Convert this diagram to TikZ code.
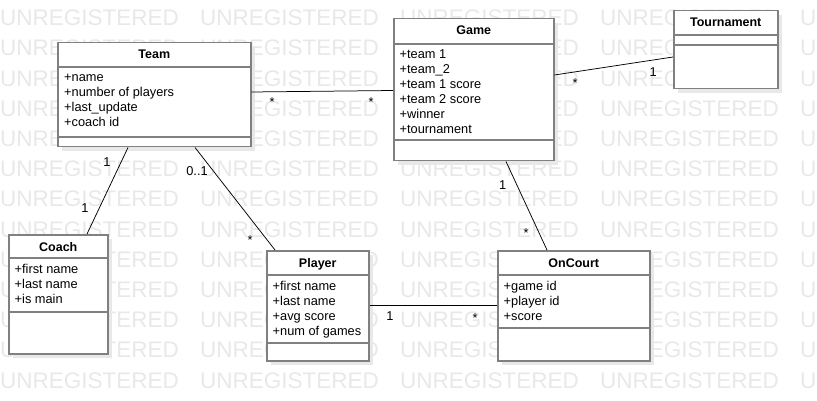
\documentclass[tikz,border=0pt]{standalone}
\usepackage{fontspec}
\setmainfont{Liberation Sans}
\usetikzlibrary{calc,shadows}
\begin{document}
\begin{tikzpicture}[x=1pt, y=-1pt]

	% Kiểu dáng cho lớp, chữ và đường nối
	\tikzset{
		classBox/.style={rectangle, draw=black!50, line width=1.5pt, fill=white, inner sep=0pt, anchor=north west,
			drop shadow={shadow xshift=4pt, shadow yshift=-4pt, fill=black!9, opacity=1}},
		sepLine/.style={draw=black!50, line width=1.5pt},
		titleText/.style={font=\fontsize{12.5}{15}\selectfont\bfseries, inner sep=0pt, anchor=base},
		attrText/.style={font=\fontsize{12.8}{15}\selectfont, inner sep=0pt, anchor=base west},
		multLabel/.style={font=\fontsize{12.8}{15}\selectfont, inner sep=0pt, anchor=base},
		assocLine/.style={line width=0.75pt, black},
		wmText/.style={font=\fontsize{22.5}{27}\selectfont, text=black!9, inner sep=0pt, anchor=west}
	}

	\useasboundingbox (0,0) rectangle (817,401);

	% Nền chữ mờ
	\foreach \r in {0,...,12} {
		\foreach \c in {0,...,3} {
			\node[wmText] (wm-\r-\c) at ({200*\c}, {18+30.2*\r}) {UNREGISTERED};
		}
		\node[wmText] (wm-\r-4) at (800, {18+30.2*\r}) {U};
	}

	% Các lớp: tên/x/y/rộng/cao/vạch 1/vạch 2/tiêu đề
	\foreach \cls/\x/\y/\w/\h/\sepA/\sepB/\ttl in {
			team/57/42/193/104/25/95/Team,
			game/393/18/160/142/26/122/Game,
			tournament/673/10/104/78/25/35/Tournament,
			coach/8/234/99/119/24/78/Coach,
			player/266/250/102/110/25/93/Player,
			oncourt/497/250/152/110/25/78/OnCourt} {
		\node[classBox, minimum width=\w, minimum height=\h] (\cls) at (\x,\y) {};
		\draw[sepLine] ($(\cls.north west)+(0,\sepA)$) -- ($(\cls.north east)+(0,\sepA)$);
		\draw[sepLine] ($(\cls.north west)+(0,\sepB)$) -- ($(\cls.north east)+(0,\sepB)$);
		\node[titleText] (\cls-title) at ($(\cls.north)+(0,17)$) {\ttl};
	}

	% Thuộc tính
	\foreach \t [count=\i] in {+name,+number of players,+last\_update,+coach id}
		\node[attrText] (team-a\i) at ($(team.north west)+(7,{25+15*\i})$) {\t};
	\foreach \t [count=\i] in {+team 1,+team\_2,+team 1 score,+team 2 score,+winner,+tournament}
		\node[attrText] (game-a\i) at ($(game.north west)+(6.5,{26+15*\i})$) {\t};
	\foreach \t [count=\i] in {+first name,+last name,+is main}
		\node[attrText] (coach-a\i) at ($(coach.north west)+(6.5,{24+15*\i})$) {\t};
	\foreach \t [count=\i] in {+first name,+last name,+avg score,+num of games}
		\node[attrText] (player-a\i) at ($(player.north west)+(6.5,{25+15*\i})$) {\t};
	\foreach \t [count=\i] in {+game id,+player id,+score}
		\node[attrText] (oncourt-a\i) at ($(oncourt.north west)+(6.5,{25+15*\i})$) {\t};

	% Đường liên kết
	\draw[assocLine] ($(team.south west)+(71,0)$) -- ($(coach.north west)+(79,0)$);
	\draw[assocLine] ($(team.south west)+(138,0)$) -- ($(player.north west)+(9,0)$);
	\draw[assocLine] ($(team.north east)+(0,50)$) -- ($(game.north west)+(0,72.5)$);
	\draw[assocLine] ($(game.north east)+(0,57)$) -- ($(tournament.north west)+(0,47)$);
	\draw[assocLine] ($(game.south west)+(113,0)$) -- ($(oncourt.north west)+(50,0)$);
	\draw[assocLine] ($(player.north east)+(0,55)$) -- ($(oncourt.north west)+(0,55)$);

	% Bội số
	\node[multLabel] (tc-a) at (107,166.5) {1};
	\node[multLabel] (tc-b) at (85,212.5) {1};
	\node[multLabel] (tp-a) at (197,175.5) {0..1};
	\node[multLabel] (tp-b) at (250,244) {*};
	\node[multLabel] (tg-a) at (272,106.4) {*};
	\node[multLabel] (tg-b) at (371,106.4) {*};
	\node[multLabel] (gt-a) at (575,87.8) {*};
	\node[multLabel] (gt-b) at (653.3,76.2) {1};
	\node[multLabel] (go-a) at (502.7,189.5) {1};
	\node[multLabel] (go-b) at (526,237.8) {*};
	\node[multLabel] (po-a) at (390,320.5) {1};
	\node[multLabel] (po-b) at (475,322.1) {*};

\end{tikzpicture}
\end{document}
